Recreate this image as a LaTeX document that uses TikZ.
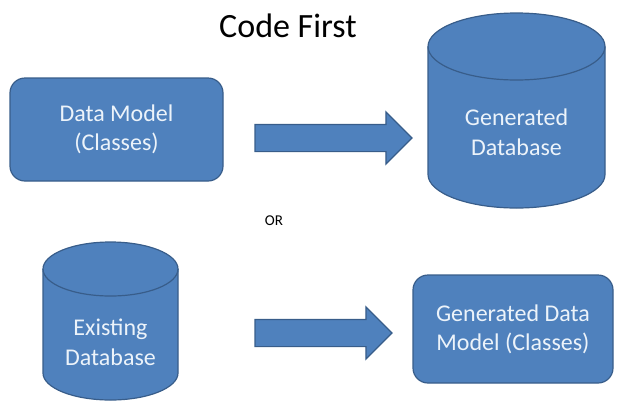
\documentclass[tikz,border=0pt]{standalone}
\usepackage{fontspec}
\setmainfont{Carlito}
\usepackage{tikz}
\usetikzlibrary{shapes.arrows,positioning}
\definecolor{cfblue}{RGB}{79,129,189}
\definecolor{cfedge}{RGB}{56,93,138}
\definecolor{cftext}{RGB}{236,243,250}

\tikzset{
  modelbox/.style={draw=cfedge,fill=cfblue,line width=1.2pt,rounded corners=15pt,
    align=center,text=cftext,font=\fontsize{24}{29}\selectfont,inner sep=0pt},
  dbbody/.style={draw=cfedge,fill=cfblue,line width=1.2pt},
  dbtext/.style={align=center,text=cftext,font=\fontsize{24}{30}\selectfont},
  blockarrow/.style={single arrow,draw=cfedge,fill=cfblue,line width=1.2pt,
    inner sep=13pt,single arrow head extend=12.5pt,single arrow tip angle=90,
    minimum width=0pt,outer sep=0pt,anchor=tail}
}

\begin{document}
\begin{tikzpicture}[x=1pt,y=-1pt]
  \useasboundingbox (0,0) rectangle (620,413);
  % heading
  \node[anchor=base,font=\fontsize{34}{40}\selectfont] (title) at (288,37) {Code First};

  % code first: classes -> database
  \node[modelbox,minimum width=213pt,minimum height=103pt] (model) at (116.5,129.5)
    {Data Model\\(Classes)};
  \draw[dbbody] (428,46.5) -- (428,174.5)
    arc[start angle=180,end angle=360,x radius=88.5pt,y radius=33.5pt]
    -- (605,46.5)
    arc[start angle=0,end angle=180,x radius=88.5pt,y radius=33.5pt] -- cycle;
  \draw[dbbody,fill=none] (428,46.5)
    arc[start angle=180,end angle=360,x radius=88.5pt,y radius=33.5pt];
  \node[dbtext] (gendb) at (516.5,132) {Generated\\Database};
  \node[blockarrow,minimum height=157pt] (arrtop) at (255,138) {};

  \node[font=\fontsize{15}{18}\selectfont] (or) at (274,221) {OR};

  % database first: database -> classes
  \draw[dbbody] (43,269) -- (43,373)
    arc[start angle=180,end angle=360,x radius=67.5pt,y radius=27pt]
    -- (178,269)
    arc[start angle=0,end angle=180,x radius=67.5pt,y radius=27pt] -- cycle;
  \draw[dbbody,fill=none] (43,269)
    arc[start angle=180,end angle=360,x radius=67.5pt,y radius=27pt];
  \node[dbtext] (existdb) at (110.5,342) {Existing\\Database};
  \node[modelbox,minimum width=200pt,minimum height=108pt] (genmodel) at (513,329)
    {Generated Data\\Model (Classes)};
  \node[blockarrow,minimum height=137pt] (arrbottom) at (255,333) {};
\end{tikzpicture}
\end{document}
